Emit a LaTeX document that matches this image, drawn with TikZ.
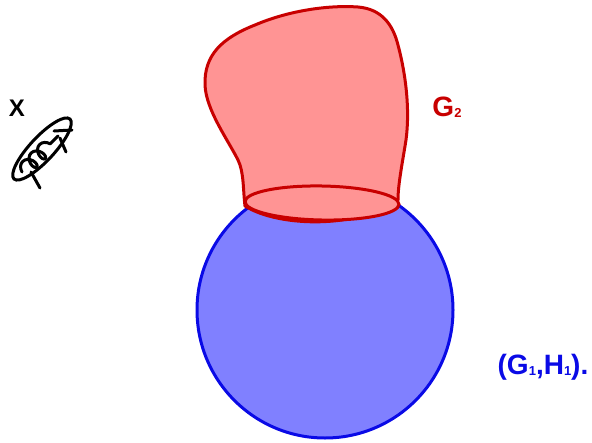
\documentclass[tikz,border=0pt]{standalone}
\usepackage{fontspec}
\setmainfont{Liberation Sans}
\usetikzlibrary{decorations.pathmorphing,shapes.geometric}
\definecolor{bluefill}{HTML}{8080FF}
\definecolor{blueline}{HTML}{0A0AE6}
\definecolor{redfill}{HTML}{FF9494}
\definecolor{redline}{HTML}{C80000}
\tikzset{
  blueball/.style={draw=blueline, fill=bluefill, line width=3pt},
  redblob/.style={draw=redline, fill=redfill, line width=3pt, line join=round},
  ink/.style={draw=black, line width=3pt, line cap=round, line join=round},
  lbl/.style={font=\bfseries\fontsize{28}{30}\selectfont, inner sep=0pt}
}
\newcommand{\subtxt}[1]{\raisebox{-1pt}{\fontsize{13}{13}\selectfont #1}}
\begin{document}
\begin{tikzpicture}[x=1pt,y=-1pt]
\useasboundingbox (0,0) rectangle (592,442);
% blue ball
\path[blueball] (325,310) circle[radius=128];
% red blob
\path[redblob] (245,206) .. controls (243,190) and (244,172) .. (238,160)
  .. controls (228,140) and (206,110) .. (205,85)
  .. controls (204,55) and (222,38) .. (255,25)
  .. controls (290,10) and (330,5) .. (358,7)
  .. controls (382,9) and (393,25) .. (398,45)
  .. controls (406,75) and (410,110) .. (406,140)
  .. controls (402,165) and (398,185) .. (398,200)
  .. controls (360,228) and (280,228) .. (245,206) -- cycle;
\node[draw=redline, fill=redfill, line width=3pt, ellipse, minimum width=154pt, minimum height=34pt, inner sep=0pt, rotate=-1] (neck) at (322,203) {};
% labels
\node[lbl, text=redline] (g2) at (447,107) {G\subtxt{2}};
\node[lbl, text=blueline] (gh) at (543,367) {(G\subtxt{1},H\subtxt{1}).};
\node[lbl, text=black, font=\bfseries\fontsize{24}{26}\selectfont] (x) at (17,108) {X};
% scribble set
\node[draw=black, line width=3pt, ellipse, minimum width=82pt, minimum height=24pt, rotate=47] (set) at (42,149) {};
\coordinate (s1) at (22,172);
\coordinate (s2) at (58,136);
\draw[ink, decorate, decoration={coil, aspect=0.7, amplitude=7pt, segment length=12pt}] (s1) -- (s2);
\coordinate (t1) at (31,172);
\coordinate (t2) at (40,188);
\draw[ink] (t1) -- (t2);
\coordinate (u1) at (60,138);
\coordinate (u2) at (66,152);
\draw[ink] (u1) -- (u2);
\coordinate (v1) at (54,131);
\coordinate (v2) at (72,130);
\draw[ink] (v1) -- (v2);
\end{tikzpicture}
\end{document}
